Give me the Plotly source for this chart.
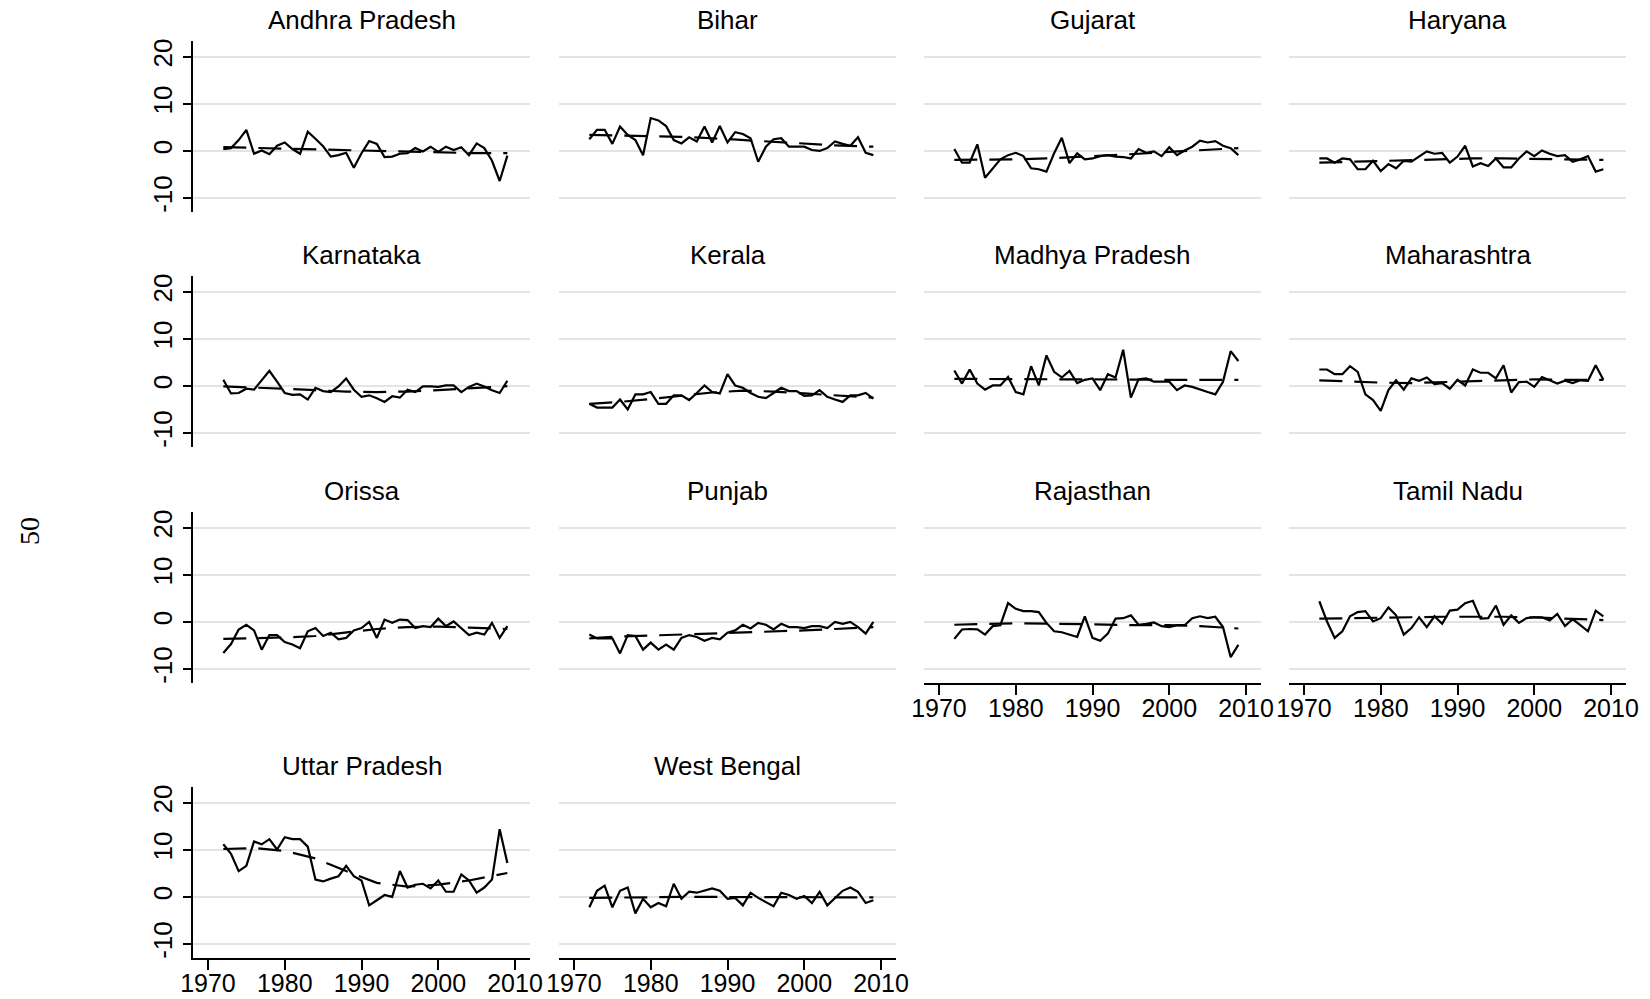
import plotly.graph_objects as go

W, H = 1650, 999

years = [1972, 1973, 1974, 1975, 1976, 1977, 1978, 1979, 1980, 1981,
         1982, 1983, 1984, 1985, 1986, 1987, 1988, 1989, 1990, 1991,
         1992, 1993, 1994, 1995, 1996, 1997, 1998, 1999, 2000, 2001,
         2002, 2003, 2004, 2005, 2006, 2007, 2008, 2009]
trend_years = [1972, 1976, 1980, 1984, 1988, 1992, 1996, 2000, 2004, 2009]

states = ["Andhra Pradesh", "Bihar", "Gujarat", "Haryana",
          "Karnataka", "Kerala", "Madhya Pradesh", "Maharashtra",
          "Orissa", "Punjab", "Rajasthan", "Tamil Nadu",
          "Uttar Pradesh", "West Bengal"]

andhra_pradesh = [0.4, 0.6, 2.3, 4.5, -0.6, 0.1, -0.7, 1.1, 1.8, 0.4,
                  -0.6, 4.1, 2.6, 1.0, -1.2, -0.9, -0.4, -3.6, -0.5, 2.1,
                  1.5, -1.3, -1.2, -0.6, -0.5, 0.6, -0.1, 0.9, -0.2, 0.9,
                  0.2, 0.8, -0.9, 1.6, 0.6, -2.1, -6.4, -1.0]
bihar = [2.5, 4.5, 4.5, 1.5, 5.2, 3.4, 2.3, -0.9, 7.0, 6.5,
         5.3, 2.3, 1.6, 2.9, 2.0, 5.2, 1.8, 5.3, 1.8, 4.0,
         3.6, 2.7, -2.3, 0.9, 2.5, 2.7, 0.9, 0.9, 0.9, 0.2,
         0.0, 0.6, 2.0, 1.5, 1.1, 2.9, -0.4, -0.9]
gujarat = [0.4, -2.5, -2.5, 1.4, -5.7, -3.7, -1.8, -0.9, -0.4, -1.1,
           -3.7, -3.9, -4.4, -0.5, 2.8, -2.6, -0.5, -1.8, -1.6, -1.1,
           -0.9, -1.2, -1.3, -1.6, 0.4, -0.4, -0.1, -1.1, 0.8, -0.9,
           0.1, 0.9, 2.2, 1.8, 2.1, 1.1, 0.6, -0.9]
haryana = [-1.6, -1.6, -2.5, -1.6, -1.8, -3.9, -3.9, -2.1, -4.3, -2.8,
           -3.7, -2.1, -2.3, -1.1, -0.1, -0.6, -0.4, -2.5, -1.2, 1.1,
           -3.3, -2.6, -3.2, -1.6, -3.5, -3.5, -1.6, -0.1, -1.1, 0.1,
           -0.6, -1.1, -0.9, -2.3, -1.8, -1.1, -4.4, -3.9]
karnataka = [1.3, -1.6, -1.5, -0.6, -0.8, 1.2, 3.2, 0.9, -1.5, -1.9,
             -1.8, -2.9, -0.4, -1.1, -1.3, -0.1, 1.6, -0.8, -2.3, -2.0,
             -2.6, -3.4, -2.2, -2.5, -0.8, -1.3, -0.1, -0.1, -0.2, 0.1,
             0.1, -1.3, -0.2, 0.5, -0.1, -0.9, -1.5, 1.1]
kerala = [-3.8, -4.6, -4.6, -4.6, -2.9, -5.0, -1.8, -1.8, -1.3, -3.8,
          -3.8, -2.0, -2.0, -3.0, -1.5, 0.1, -1.3, -1.6, 2.5, 0.1,
          -0.4, -1.5, -2.3, -2.6, -1.5, -0.4, -1.1, -1.1, -2.1, -2.0,
          -0.9, -2.3, -2.9, -3.4, -2.0, -2.0, -1.5, -2.7]
madhya_pradesh = [3.3, 0.5, 3.5, 0.5, -0.8, 0.1, 0.1, 1.9, -1.3, -1.8,
                  4.2, 0.1, 6.5, 3.0, 1.8, 3.2, 0.6, 1.3, 1.6, -0.9,
                  2.5, 1.8, 7.7, -2.5, 1.4, 1.6, 0.9, 0.9, 0.9, -0.9,
                  0.1, -0.2, -0.8, -1.3, -1.8, 0.9, 7.4, 5.3]
maharashtra = [3.5, 3.5, 2.5, 2.5, 4.2, 3.0, -1.8, -3.0, -5.3, -0.9,
               1.2, -0.8, 1.6, 1.1, 1.8, 0.4, 0.6, -0.6, 1.3, 0.1,
               3.5, 2.8, 2.8, 1.6, 4.4, -1.4, 0.8, 0.9, -0.2, 1.9,
               1.2, 0.5, 1.1, 0.6, 1.2, 1.1, 4.4, 1.3]
orissa = [-6.6, -4.7, -1.6, -0.6, -1.8, -5.9, -2.8, -2.8, -4.3, -4.8,
          -5.6, -2.0, -1.3, -3.0, -2.3, -3.7, -3.4, -1.8, -1.3, 0.0,
          -3.4, 0.5, -0.2, 0.5, 0.4, -1.3, -0.9, -1.1, 0.7, -0.9,
          0.1, -1.3, -2.8, -2.3, -2.7, -0.2, -3.4, -0.9]
punjab = [-2.7, -3.5, -3.5, -3.5, -6.7, -2.8, -3.0, -5.9, -4.4, -5.9,
          -4.8, -5.9, -3.4, -2.8, -3.2, -4.0, -3.4, -3.7, -2.3, -1.8,
          -0.6, -1.4, -0.2, -0.6, -1.6, -0.4, -1.1, -1.1, -1.3, -0.9,
          -0.9, -1.3, 0.0, -0.4, 0.0, -1.1, -2.5, 0.0]
rajasthan = [-3.6, -1.6, -1.5, -1.6, -2.7, -0.9, -0.7, 4.0, 2.8, 2.3,
             2.3, 2.1, -0.2, -2.0, -2.2, -2.7, -3.2, 1.2, -3.4, -4.0,
             -2.5, 0.7, 0.8, 1.4, -0.6, -0.4, -0.1, -0.9, -1.1, -0.7,
             -0.7, 0.8, 1.2, 0.8, 1.1, -1.1, -7.5, -4.9]
tamil_nadu = [4.4, 0.1, -3.4, -2.0, 1.2, 2.1, 2.3, 0.1, 0.8, 3.1,
              1.4, -2.7, -1.3, 1.0, -1.1, 1.2, -0.4, 2.4, 2.6, 4.0,
              4.5, 0.7, 0.8, 3.5, -0.6, 1.4, -0.2, 0.8, 1.0, 1.0,
              0.3, 1.7, -0.9, 0.6, -0.7, -2.0, 2.4, 1.2]
uttar_pradesh = [11.2, 9.2, 5.5, 6.6, 11.8, 11.2, 12.3, 10.1, 12.7, 12.3,
                 12.3, 10.7, 3.7, 3.3, 3.9, 4.4, 6.6, 4.4, 3.5, -1.8,
                 -0.7, 0.4, 0.0, 5.5, 2.0, 2.6, 2.8, 1.8, 3.5, 1.1,
                 1.1, 4.8, 3.5, 0.9, 2.0, 3.7, 14.4, 7.2]
west_bengal = [-2.2, 1.3, 2.4, -2.2, 1.3, 2.0, -3.5, -0.4, -2.2, -1.3,
               -2.0, 2.8, -0.4, 1.1, 0.9, 1.3, 1.8, 1.3, -0.4, -0.2,
               -1.8, 0.9, -0.2, -1.1, -2.0, 0.9, 0.4, -0.4, 0.2, -1.3,
               1.1, -1.8, -0.2, 1.3, 2.0, 1.1, -1.3, -0.7]

andhra_pradesh_trend = [0.8, 0.65, 0.5, 0.4, 0.25, 0.1, -0.15, -0.3, -0.45, -0.45]
bihar_trend = [3.4, 3.3, 3.2, 3.0, 2.7, 2.3, 1.9, 1.5, 1.2, 0.9]
gujarat_trend = [-1.9, -1.9, -1.8, -1.6, -1.3, -1.0, -0.6, -0.2, 0.2, 0.6]
haryana_trend = [-2.5, -2.3, -2.2, -2.0, -1.8, -1.6, -1.6, -1.7, -1.8, -1.9]
karnataka_trend = [-0.1, -0.3, -0.6, -0.9, -1.2, -1.3, -1.2, -0.9, -0.5, -0.05]
kerala_trend = [-3.8, -3.4, -2.8, -2.1, -1.4, -1.0, -1.2, -1.6, -2.0, -2.5]
madhya_pradesh_trend = [1.5, 1.5, 1.45, 1.4, 1.4, 1.4, 1.35, 1.3, 1.3, 1.3]
maharashtra_trend = [1.2, 0.9, 0.7, 0.6, 0.8, 1.1, 1.3, 1.4, 1.3, 1.3]
orissa_trend = [-3.6, -3.5, -3.3, -3.0, -2.3, -1.5, -1.1, -1.0, -1.2, -1.5]
punjab_trend = [-3.5, -3.1, -2.9, -2.7, -2.5, -2.2, -2.0, -1.8, -1.5, -1.1]
rajasthan_trend = [-0.6, -0.4, -0.3, -0.35, -0.5, -0.7, -0.7, -0.7, -0.9, -1.4]
tamil_nadu_trend = [0.7, 0.75, 0.85, 1.0, 1.1, 1.15, 1.1, 0.95, 0.7, 0.4]
uttar_pradesh_trend = [10.2, 10.4, 9.8, 8.2, 5.5, 3.0, 2.2, 2.6, 3.5, 5.1]
west_bengal_trend = [-0.2, -0.1, -0.05, 0.0, 0.0, 0.0, 0.0, 0.0, -0.05, -0.1]

series = [andhra_pradesh, bihar, gujarat, haryana, karnataka, kerala,
          madhya_pradesh, maharashtra, orissa, punjab, rajasthan,
          tamil_nadu, uttar_pradesh, west_bengal]
trends = [andhra_pradesh_trend, bihar_trend, gujarat_trend, haryana_trend,
          karnataka_trend, kerala_trend, madhya_pradesh_trend,
          maharashtra_trend, orissa_trend, punjab_trend, rajasthan_trend,
          tamil_nadu_trend, uttar_pradesh_trend, west_bengal_trend]

x_ticks = [1970, 1980, 1990, 2000, 2010]
x_tick_text = ["1970", "1980", "1990", "2000", "2010"]
y_ticks = [-10, 0, 10, 20]
y_tick_text = ["-10", "0", "10", "20"]

# panel geometry in pixels
col_left = [193, 559, 924, 1289]
panel_w = 337
row_top = [41, 276, 512, 787]
panel_h = 171
x_axis_panels = {10, 11, 12, 13}

FONT = "Liberation Sans, Arial, sans-serif"

fig = go.Figure()
layout = dict(
    width=W, height=H,
    margin=dict(l=0, r=0, t=0, b=0, pad=0, autoexpand=False),
    paper_bgcolor="white", plot_bgcolor="white",
    showlegend=False,
    font=dict(family=FONT, color="black"),
    annotations=[],
)

for i, name in enumerate(states):
    r, c = divmod(i, 4)
    n = "" if i == 0 else str(i + 1)
    xa, ya = "x" + n, "y" + n
    fig.add_trace(go.Scatter(x=years, y=series[i], mode="lines",
                             line=dict(color="black", width=2.2),
                             xaxis=xa, yaxis=ya, hoverinfo="skip"))
    fig.add_trace(go.Scatter(x=trend_years, y=trends[i], mode="lines",
                             line=dict(color="black", width=2.2, dash="23px,12px"),
                             xaxis=xa, yaxis=ya, hoverinfo="skip"))
    x0 = col_left[c] / W
    x1 = (col_left[c] + panel_w) / W
    y1 = 1 - row_top[r] / H
    y0 = 1 - (row_top[r] + panel_h) / H
    show_x = i in x_axis_panels
    xaxis = dict(domain=[x0, x1], range=[1968.05, 2011.95], anchor=ya,
                 showgrid=False, zeroline=False, tickvals=x_ticks,
                 ticktext=x_tick_text, fixedrange=True, automargin=False)
    if show_x:
        xaxis.update(showline=True, linecolor="black", linewidth=1.6,
                     ticks="outside", ticklen=10, tickwidth=1.6,
                     tickcolor="black", showticklabels=True,
                     ticklabelstandoff=-8,
                     tickfont=dict(size=25, family=FONT, color="black"))
    else:
        xaxis.update(showline=False, ticks="", showticklabels=False)
    yaxis = dict(domain=[y0, y1], range=[-13.0, 23.4], anchor=xa,
                 tickvals=y_ticks, ticktext=y_tick_text, showgrid=True,
                 gridcolor="#e4e4e4", gridwidth=2, zeroline=False,
                 fixedrange=True, automargin=False)
    if c == 0:
        yaxis.update(showline=True, linecolor="black", linewidth=1.6,
                     ticks="outside", ticklen=8, tickwidth=1.6,
                     tickcolor="black", showticklabels=True, tickangle=-90,
                     ticklabelstandoff=1,
                     tickfont=dict(size=26, family=FONT, color="black"))
    else:
        yaxis.update(showline=False, ticks="", showticklabels=False)
    layout["xaxis" + n] = xaxis
    layout["yaxis" + n] = yaxis
    layout["annotations"].append(dict(
        text=name, xref="paper", yref="paper",
        x=(col_left[c] + panel_w / 2) / W,
        y=1 - (row_top[r] - 21) / H,
        xanchor="center", yanchor="middle", showarrow=False,
        font=dict(size=26, family=FONT, color="black")))

layout["annotations"].append(dict(
    text="50", xref="paper", yref="paper", x=29 / W, y=1 - 531 / H,
    xanchor="center", yanchor="middle", showarrow=False, textangle=-90,
    font=dict(size=28, family="Liberation Serif, Times New Roman, serif",
              color="black")))

fig.update_layout(**layout)
fig.write_html(
    "out.html",
    post_script="document.body.style.margin='0';"
                "document.body.style.overflow='hidden';",
)
